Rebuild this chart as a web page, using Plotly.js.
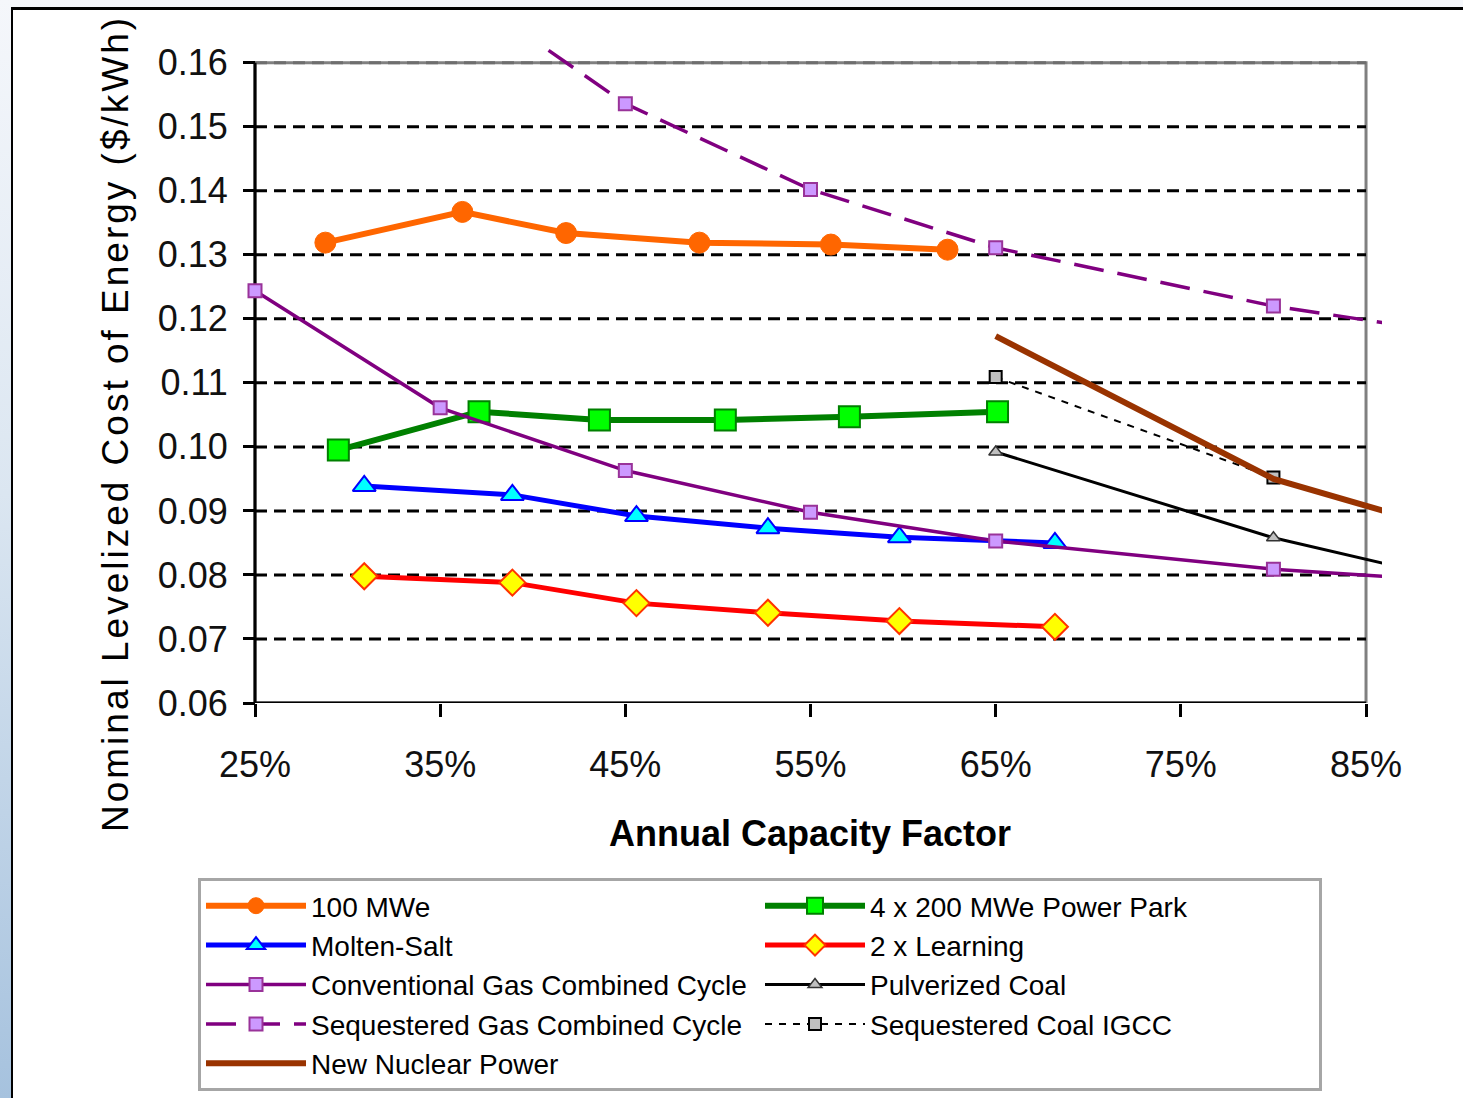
<!DOCTYPE html>
<html>
<head>
<meta charset="utf-8">
<script src="https://cdn.plot.ly/plotly-3.0.1.min.js"></script>
<style>
  html, body { margin: 0; padding: 0; width: 1463px; height: 1098px; overflow: hidden;
    background: linear-gradient(to bottom, #f5f7fb 0%, #dbe6f1 45%, #a6c2de 100%); }
  #frame { position: absolute; left: 11px; top: 7px; width: 1452px; height: 1091px;
    background: #ffffff; border-left: 2px solid #000; border-top: 3px solid #000; box-sizing: border-box; }
  #chart { position: absolute; left: 0; top: 0; width: 1463px; height: 1098px; }
  .ytitle-ann .annotation-text { letter-spacing: 3px; }
</style>
</head>
<body>
<div id="frame"></div>
<div id="chart"></div>
<script>
// ---- data (Annual capacity factor in %, cost in $/kWh) ----
const xTickVals = [25, 35, 45, 55, 65, 75, 85];
const xTickText = ['25%', '35%', '45%', '55%', '65%', '75%', '85%'];
const yTickVals = [0.06, 0.07, 0.08, 0.09, 0.10, 0.11, 0.12, 0.13, 0.14, 0.15, 0.16];

const mwe100X = [28.8, 36.2, 41.8, 49.0, 56.1, 62.4];
const mwe100Y = [0.1319, 0.1367, 0.1334, 0.1319, 0.1316, 0.1308];

const parkX = [29.5, 37.1, 43.6, 50.4, 57.1, 65.1];
const parkY = [0.0995, 0.1055, 0.1042, 0.1042, 0.1047, 0.1055];

const moltenX = [30.9, 38.9, 45.6, 52.7, 59.8, 68.2];
const moltenY = [0.0939, 0.0925, 0.0892, 0.0873, 0.0859, 0.0850];

const learnX = [30.9, 38.9, 45.6, 52.7, 59.8, 68.2];
const learnY = [0.0798, 0.0788, 0.0756, 0.0741, 0.0728, 0.0719];

const convGasX = [25, 35, 45, 55, 65, 80, 90];
const convGasY = [0.1244, 0.1061, 0.0963, 0.0898, 0.0853, 0.0809, 0.0790];

const pcCoalX = [65, 80, 90];
const pcCoalY = [0.0992, 0.0858, 0.0791];

const seqGasX = [35, 45, 55, 65, 80, 90];
const seqGasY = [0.1737, 0.1536, 0.1402, 0.1311, 0.1220, 0.1176];

const seqCoalX = [65, 80];
const seqCoalY = [0.1109, 0.0952];

const nuclearX = [65, 80, 90];
const nuclearY = [0.1173, 0.0950, 0.0866];

const seriesNames = ['100 MWe', '4 x 200 MWe Power Park', 'Molten-Salt', '2 x Learning',
  'Conventional Gas Combined Cycle', 'Pulverized Coal', 'Sequestered Gas Combined Cycle',
  'Sequestered Coal IGCC', 'New Nuclear Power'];

const xTitle = 'Annual Capacity Factor';
const yTitle = 'Nominal Levelized Cost of Energy ($/kWh)';

const FONT = '"Liberation Sans", Arial, sans-serif';

const traces = [
  { x: mwe100X, y: mwe100Y, name: seriesNames[0], mode: 'lines+markers',
    line: { color: '#FF6600', width: 6 },
    marker: { symbol: 'circle', size: 21, color: '#FF6600', line: { color: '#FF6600', width: 1 } } },
  { x: parkX, y: parkY, name: seriesNames[1], mode: 'lines+markers',
    line: { color: '#008000', width: 6 },
    marker: { symbol: 'square', size: 21, color: '#00FF00', line: { color: '#008000', width: 2 } } },
  { x: moltenX, y: moltenY, name: seriesNames[2], mode: 'lines+markers',
    line: { color: '#0000FF', width: 5 },
    marker: { symbol: 'triangle-up', size: 20, color: '#00FFFF', line: { color: '#0000FF', width: 2 } } },
  { x: learnX, y: learnY, name: seriesNames[3], mode: 'lines+markers',
    line: { color: '#FF0000', width: 5 },
    marker: { symbol: 'diamond', size: 20, color: '#FFFF00', line: { color: '#FF3300', width: 2 } } },
  { x: convGasX, y: convGasY, name: seriesNames[4], mode: 'lines+markers',
    line: { color: '#800080', width: 3.5 },
    marker: { symbol: 'square', size: 13, color: '#CC99FF', line: { color: '#993399', width: 2 } } },
  { x: pcCoalX, y: pcCoalY, name: seriesNames[5], mode: 'lines+markers',
    line: { color: '#000000', width: 3 },
    marker: { symbol: 'triangle-up', size: 12, color: '#C0C0C0', line: { color: '#333333', width: 1.5 } } },
  { x: seqGasX, y: seqGasY, name: seriesNames[6], mode: 'lines+markers',
    line: { color: '#800080', width: 3.5, dash: '30px,14px' },
    marker: { symbol: 'square', size: 13, color: '#CC99FF', line: { color: '#993399', width: 2 } } },
  { x: seqCoalX, y: seqCoalY, name: seriesNames[7], mode: 'lines+markers',
    line: { color: '#000000', width: 2, dash: '7px,7px' },
    marker: { symbol: 'square', size: 12, color: '#C0C0C0', line: { color: '#000000', width: 2 } } },
  { x: nuclearX, y: nuclearY, name: seriesNames[8], mode: 'lines',
    line: { color: '#993300', width: 6 } }
];

const shapes = [];
// plot border (grey)
shapes.push({ type: 'rect', xref: 'x', yref: 'y', x0: 25, x1: 85, y0: 0.06, y1: 0.16,
  line: { color: '#808080', width: 3 }, fillcolor: 'rgba(0,0,0,0)', layer: 'below' });
// dashed horizontal gridlines
yTickVals.slice(1).forEach(v => {
  shapes.push({ type: 'line', xref: 'x', yref: 'y', x0: 25, x1: 85, y0: v, y1: v,
    line: { color: v >= 0.159 ? '#6e6e6e' : '#000000', width: 3, dash: '12px,7px' }, layer: 'below' });
});
// black axis lines
shapes.push({ type: 'line', xref: 'x', yref: 'y', x0: 25, x1: 25, y0: 0.06, y1: 0.16,
  line: { color: '#000000', width: 3 }, layer: 'below' });
shapes.push({ type: 'line', xref: 'x', yref: 'y', x0: 25, x1: 85, y0: 0.06, y1: 0.06,
  line: { color: '#000000', width: 3 }, layer: 'below' });

const annotations = [
  { text: xTitle, xref: 'paper', yref: 'paper', x: 0.4982, y: -0.1985,
    xanchor: 'center', yanchor: 'middle', showarrow: false,
    font: { family: FONT, size: 36, weight: 'bold', color: '#000000' } },
  { text: yTitle, xref: 'paper', yref: 'paper', x: -0.1105, y: 0.426,
    xanchor: 'center', yanchor: 'middle', showarrow: false, textangle: -90,
    font: { family: FONT, size: 37, color: '#000000' } }
];

const layout = {
  width: 1463, height: 1098,
  margin: { l: 242, r: 81, t: 48, b: 395 },
  paper_bgcolor: 'rgba(0,0,0,0)',
  plot_bgcolor: 'rgba(0,0,0,0)',
  font: { family: FONT, color: '#000000' },
  showlegend: true,
  xaxis: {
    range: [24.298, 85.863], tickvals: xTickVals, ticktext: xTickText,
    showgrid: false, zeroline: false, showline: false,
    ticks: 'outside', ticklen: 13, tickwidth: 3, tickcolor: '#000000',
    ticklabelstandoff: 17,
    tickfont: { family: FONT, size: 36, color: '#111111' }
  },
  yaxis: {
    range: [0.06, 0.1623], tickvals: yTickVals, tickformat: '.2f',
    anchor: 'free', position: 13 / 1140,
    showgrid: false, zeroline: false, showline: false,
    ticks: 'outside', ticklen: 12, tickwidth: 3, tickcolor: '#000000',
    ticklabelstandoff: 8,
    tickfont: { family: FONT, size: 36, color: '#111111' }
  },
  legend: {
    orientation: 'h', xref: 'container', yref: 'container',
    x: 198 / 1463, y: 1 - 878 / 1098, xanchor: 'left', yanchor: 'top',
    bgcolor: '#ffffff', bordercolor: '#a6a6a6', borderwidth: 3,
    font: { family: FONT, size: 28, color: '#000000' },
    entrywidth: 444, entrywidthmode: 'pixels', itemwidth: 100,
    tracegroupgap: 0, itemsizing: 'trace'
  },
  annotations: annotations,
  shapes: shapes
};

Plotly.newPlot('chart', traces, layout, { staticPlot: true }).then(gd => {
  // tag the y-title annotation so its letter spacing can follow the reference
  const anns = gd.querySelectorAll('.annotation');
  if (anns.length > 1) anns[1].classList.add('ytitle-ann');
});
</script>
</body>
</html>
